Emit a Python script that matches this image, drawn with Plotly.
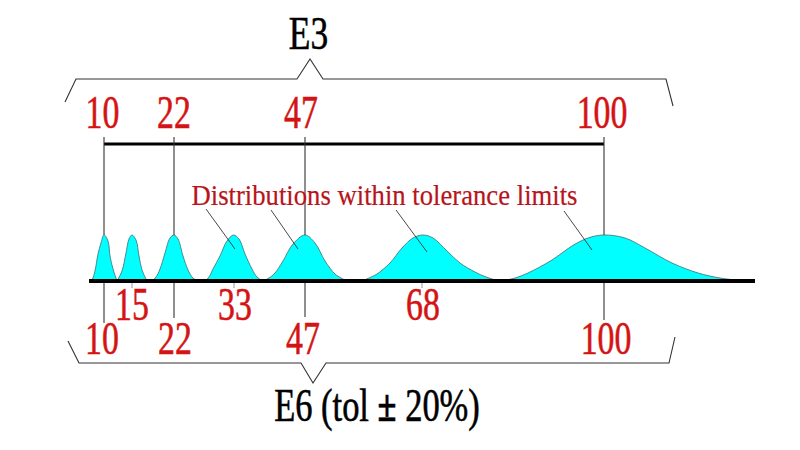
# E3 / E6 preferred values with tolerance distributions
import plotly.graph_objects as go

# distribution outlines: x along the scale, height above the base line
dist_x = [
    [92, 95, 98, 101, 104, 108, 110, 113, 117],
    [117, 122, 126, 129, 132, 136, 139, 142, 147],
    [152, 156, 160, 165, 170, 174, 178, 183, 188, 192, 197],
    [205, 209, 213, 220, 227, 233.5, 239, 245, 252, 257, 263],
    [263, 269, 275, 283, 293, 305, 315, 325, 335, 341, 347],
    [362, 369, 377, 390, 402, 413, 423, 433, 447, 460, 475, 486, 499],
    [502, 515, 528, 552, 572, 588, 604, 625, 645, 672, 698, 720, 745],
]
dist_h = [
    [0, 10, 27, 38, 46, 40, 25, 12, 0],
    [0, 10, 28, 42, 46, 41, 25, 11, 0],
    [0, 4, 12, 28, 43, 46, 42, 25, 11, 4, 0],
    [0, 4, 12, 25, 40, 46, 42, 27, 12, 4, 0],
    [0, 3, 8, 20, 37, 46, 38, 20, 7, 3, 0],
    [0, 3, 7, 18, 33, 43, 46, 43, 30, 18, 9, 4, 0],
    [0, 3, 8, 21, 35, 43, 46, 43, 33, 18, 8, 3, 0],
]

e3_values = ["10", "22", "47", "100"]
e3_x = [102.5, 174, 301, 602]
e3_tick_x = [104, 174, 305, 604]

e6_values = ["10", "22", "47", "100"]
e6_x = [102, 175, 303, 606]
e6_tick_x = [104, 174, 305, 604]
e6_tick_end = [-42, -37, -36, -39]

mid_values = ["15", "33", "68"]
mid_x = [132, 235, 423]
mid_tick_x = [132, 234, 422]

# brackets
e3_brace_x = [65, 76, 297, 310, 323, 666, 673]
e3_brace_h = [179, 202, 202, 222, 202, 202, 175]
e6_brace_x = [68, 79, 301, 313, 326, 669, 675]
e6_brace_h = [-60, -82, -82, -102, -82, -82, -56]

# leaders from the caption to the curves
leader_x = [[206, 235], [271, 298], [396, 427], [564, 592]]
leader_h = [[72, 32], [71, 32], [71, 29], [70, 31]]

RED = "#d41414"
SERIF = "Liberation Serif"


def line(x, y, color="#222222", width=1.0):
    return go.Scatter(x=x, y=y, mode="lines", line=dict(color=color, width=width),
                      hoverinfo="skip", showlegend=False)


def labels(x, y, text, color, size):
    return go.Scatter(x=x, y=y, text=text, mode="text", hoverinfo="skip", showlegend=False,
                      textposition="middle center",
                      textfont=dict(family=SERIF, size=size, color=color))


fig = go.Figure()

for xs, hs in zip(dist_x, dist_h):
    fig.add_trace(go.Scatter(x=xs, y=hs, mode="lines", fill="tozeroy", fillcolor="#00ffff",
                             line=dict(color="#3f7f85", width=0.9, shape="spline", smoothing=1),
                             hoverinfo="skip", showlegend=False))

fig.add_trace(line([89, 755], [0, 0], "#000000", 4.2))
fig.add_trace(line([104, 604], [137, 137], "#000000", 3))

for x in e3_tick_x:
    fig.add_trace(line([x, x], [144, 46], "#333333", 1.1))
for x, end in zip(e6_tick_x, e6_tick_end):
    fig.add_trace(line([x, x], [-2, end], "#333333", 1.1))
for x in mid_tick_x:
    fig.add_trace(line([x, x], [-2, -7], "#999999", 1))

fig.add_trace(line(e3_brace_x, e3_brace_h, "#333333", 1.1))
fig.add_trace(line(e6_brace_x, e6_brace_h, "#333333", 1.1))

for xs, hs in zip(leader_x, leader_h):
    fig.add_trace(line(xs, hs, "#333333", 0.9))

fig.add_trace(labels(e3_x, [165] * 4, e3_values, RED, 47))
fig.add_trace(labels(e6_x, [-61] * 4, e6_values, RED, 47))
fig.add_trace(labels(mid_x, [-27] * 3, mid_values, RED, 47))
fig.add_trace(labels([308.5], [244], ["E3"], "#000000", 46))
fig.add_trace(labels([377], [-129], ["E6 (tol <b>±</b> 20%)"], "#000000", 46))
fig.add_trace(labels([384.5], [83], ["Distributions within tolerance limits"], "#b8141c", 29))

fig.update_layout(
    width=800, height=450,
    margin=dict(l=0, r=0, t=0, b=0),
    paper_bgcolor="white", plot_bgcolor="white",
    xaxis=dict(range=[0, 800], visible=False, fixedrange=True),
    yaxis=dict(range=[-169, 281], visible=False, fixedrange=True),
)

# the lettering in the original is condensed and a bit heavier, squeeze it sideways
squeeze = """
document.body.style.margin = '0';
document.querySelectorAll('.textpoint text').forEach(function (t) {
    var s = t.textContent;
    var k = s.indexOf('Dist') === 0 ? 0.92 : s.indexOf('E6') === 0 ? 0.75 : s.indexOf('E') === 0 ? 0.77 : 0.72;
    t.style.transformBox = 'fill-box';
    t.style.transformOrigin = 'center';
    t.style.transform = 'scaleX(' + k + ')';
    t.style.stroke = t.style.fill;
    t.style.strokeWidth = s.indexOf('Dist') === 0 ? '0.2px' : '0.6px';
});
"""

fig.write_html("out.html", post_script=squeeze, config=dict(displayModeBar=False))
